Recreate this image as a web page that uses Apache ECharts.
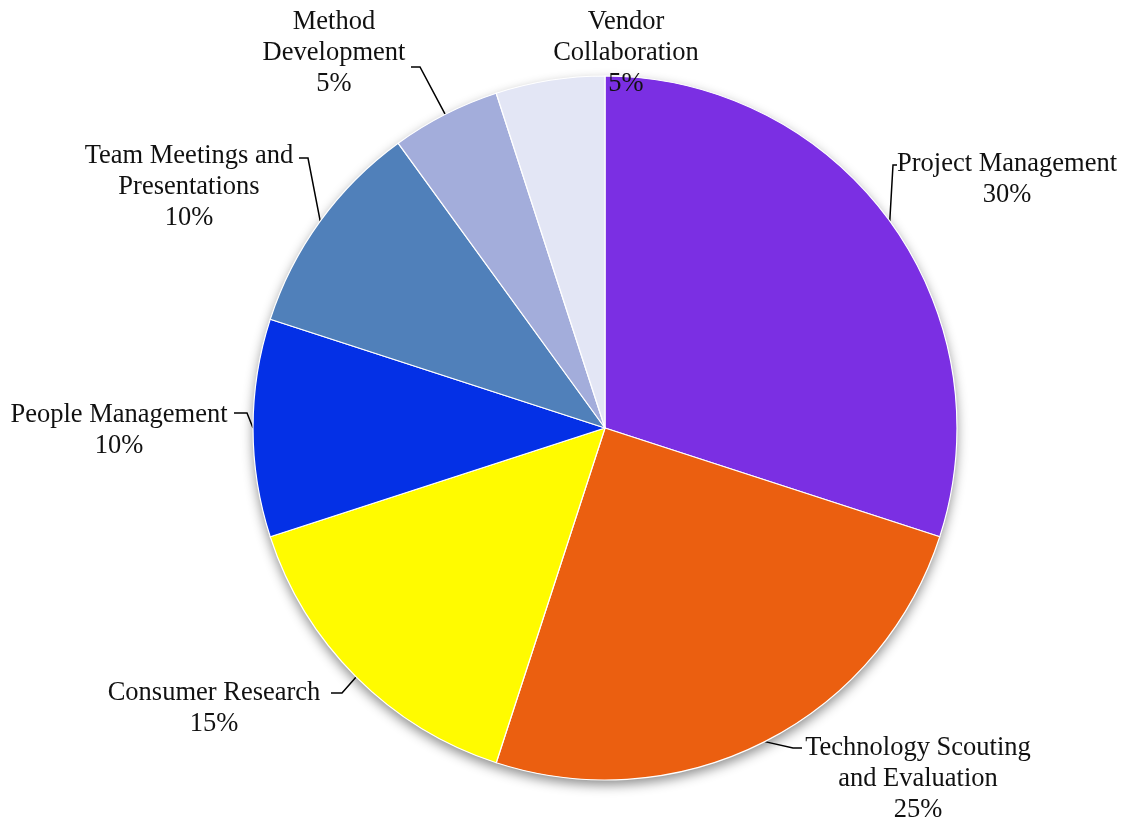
<!DOCTYPE html>
<html>
<head>
<meta charset="utf-8">
<script src="https://cdn.jsdelivr.net/npm/echarts@6/dist/echarts.min.js"></script>
<style>
  html, body { margin: 0; padding: 0; background: #fff; }
  #chart { width: 1125px; height: 822px; }
</style>
</head>
<body>
<div id="chart"></div>
<script>
const categories = [
  'Project Management',
  'Technology Scouting\nand Evaluation',
  'Consumer Research',
  'People Management',
  'Team Meetings and\nPresentations',
  'Method\nDevelopment',
  'Vendor\nCollaboration'
];
const shares = [30, 25, 15, 10, 10, 5, 5];
const colors = ['#7b2fe3', '#eb5f10', '#fffb00', '#0430e6', '#5080ba', '#a3addb', '#e3e6f5'];

// label block placement: [center x, top y]; leader bend and end points
const labelPos = [
  [1007, 149], [918, 733], [214, 678], [119, 400], [189, 141], [334, 7], [626, 7]
];
const leaderPts = [
  [[893, 165], [897, 165]],
  [[793, 748], [802, 748]],
  [[342, 693], [331, 693]],
  [[247, 413], [234, 413]],
  [[308, 158], [299, 158]],
  [[420, 67], [411, 67]],
  null
];

const total = shares.reduce((a, b) => a + b, 0);
const font = '"Liberation Serif", "DejaVu Serif", serif';

const chart = echarts.init(document.getElementById('chart'));
chart.setOption({
  animation: false,
  series: [
    {
      type: 'pie',
      silent: true,
      center: [605, 428],
      radius: 352,
      z: 1,
      label: { show: false },
      labelLine: { show: false },
      itemStyle: {
        color: '#ffffff',
        shadowBlur: 12,
        shadowOffsetY: 5,
        shadowColor: 'rgba(0,0,0,0.45)'
      },
      data: [{ value: total, name: 'bg' }]
    },
    {
      type: 'pie',
      center: [605, 428],
      radius: 352,
      startAngle: 90,
      clockwise: true,
      z: 2,
      avoidLabelOverlap: false,
      itemStyle: { borderColor: '#ffffff', borderWidth: 1.2 },
      label: {
        show: true,
        position: 'outside',
        formatter: p => p.name + '\n' + p.value + '%',
        fontFamily: font,
        fontSize: 26.5,
        lineHeight: 31,
        color: '#111111',
        align: 'center'
      },
      labelLine: {
        show: true,
        length: 10,
        length2: 10,
        smooth: false,
        lineStyle: { color: '#000000', width: 1.5 }
      },
      labelLayout: function (params) {
        const i = params.dataIndex;
        const pos = labelPos[i];
        const out = { x: pos[0], y: pos[1], align: 'center', verticalAlign: 'top' };
        if (leaderPts[i] && params.labelLinePoints) {
          out.labelLinePoints = [params.labelLinePoints[0], leaderPts[i][0], leaderPts[i][1]];
        }
        return out;
      },
      data: categories.map((name, i) => ({
        name: name,
        value: shares[i],
        itemStyle: { color: colors[i] },
        labelLine: { show: leaderPts[i] !== null, lineStyle: { color: '#000000', width: 1.5 } }
      }))
    }
  ]
});
</script>
</body>
</html>
